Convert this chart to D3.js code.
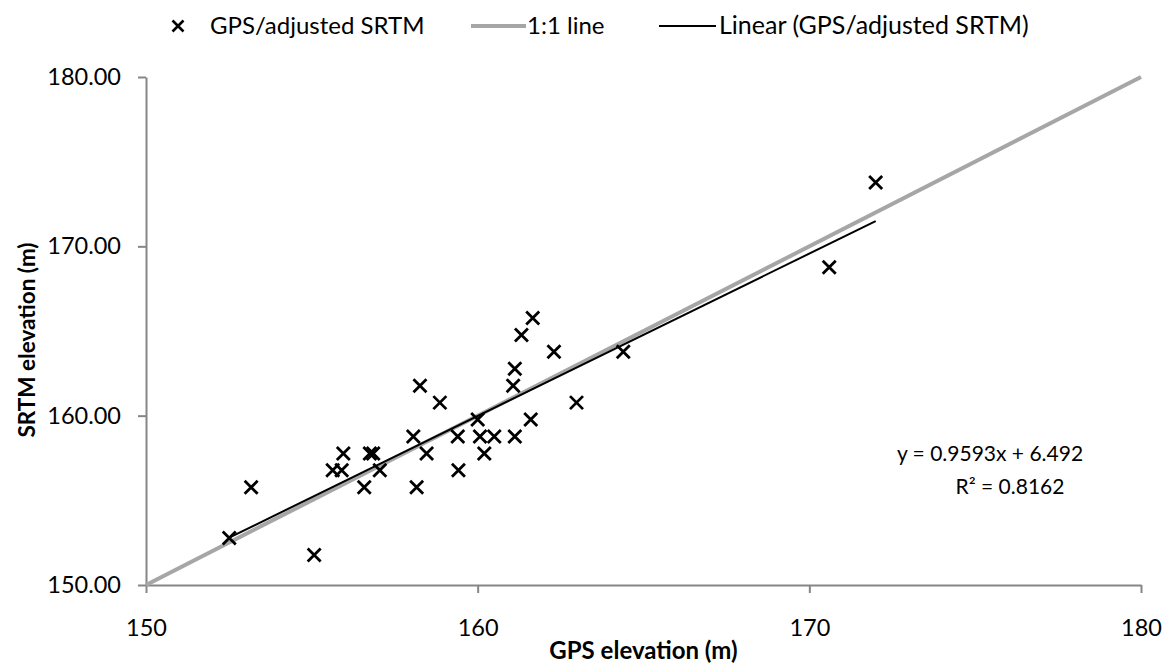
<!DOCTYPE html>
<html>
<head>
<meta charset="utf-8">
<script src="https://cdn.jsdelivr.net/npm/d3@7"></script>
<style>
  html, body { margin: 0; padding: 0; background: #fff; }
  svg { display: block; }
  text { font-family: Lato, "Open Sans", "Liberation Sans", sans-serif; fill: #000; }
</style>
</head>
<body>
<svg id="chart" width="1169" height="672"></svg>
<script>
// GPS-measured elevations (m)
const gpsElevation = [
  152.51, 153.17, 155.07, 155.63, 155.90, 155.95, 156.58, 156.75,
  156.85, 157.05, 158.06, 158.16, 158.26, 158.46, 158.86, 159.40,
  159.42, 160.00, 160.07, 160.20, 160.50, 161.07, 161.12, 161.12,
  161.32, 161.60, 161.66, 162.30, 162.98, 164.39, 170.60, 172.00
];
// Adjusted SRTM elevations (m) at the same locations
const srtmElevation = [
  152.77, 155.77, 151.77, 156.77, 156.77, 157.77, 155.77, 157.77,
  157.77, 156.77, 158.77, 155.77, 161.77, 157.77, 160.77, 158.77,
  156.77, 159.77, 158.77, 157.77, 158.77, 161.77, 162.77, 158.77,
  164.77, 159.77, 165.77, 163.77, 160.77, 163.77, 168.77, 173.77
];
// Least-squares fit reported on the chart
const trendSlope = 0.9593;
const trendIntercept = 6.492;
const rSquared = 0.8162;

const xTicks = [150, 160, 170, 180];
const yTicks = [150, 160, 170, 180];
const axisDomain = [150, 180];

const seriesNames = ["GPS/adjusted SRTM", "1:1 line", "Linear (GPS/adjusted SRTM)"];

const svg = d3.select("#chart");
const plotLeft = 146, plotRight = 1141, plotTop = 77, plotBottom = 585;

const x = d3.scaleLinear().domain(axisDomain).range([plotLeft, plotRight]);
const y = d3.scaleLinear().domain(axisDomain).range([plotBottom, plotTop]);

const axisColor = "#868686";

// plain "x" cross: two diagonals inside a square of side sqrt(size)
const crossShape = {
  draw(ctx, size) {
    const r = Math.sqrt(size) / 2;
    ctx.moveTo(-r, -r); ctx.lineTo(r, r);
    ctx.moveTo(r, -r); ctx.lineTo(-r, r);
  }
};

// y axis
const gy = svg.append("g")
  .attr("transform", `translate(${plotLeft},0)`)
  .call(d3.axisLeft(y).tickValues(yTicks).tickFormat(d3.format(".2f"))
    .tickSize(8).tickSizeOuter(0).tickPadding(17));
gy.select(".domain").attr("stroke", axisColor).attr("stroke-width", 2);
gy.selectAll(".tick line").attr("stroke", axisColor).attr("stroke-width", 2);
gy.selectAll(".tick text").attr("font-size", 23.5).attr("fill", "#000")
  .attr("font-family", "Lato, 'Open Sans', sans-serif");

// x axis
const gx = svg.append("g")
  .attr("transform", `translate(0,${plotBottom})`)
  .call(d3.axisBottom(x).tickValues(xTicks).tickFormat(d3.format("d"))
    .tickSize(8).tickSizeOuter(0).tickPadding(26));
gx.select(".domain").attr("stroke", axisColor).attr("stroke-width", 2);
gx.selectAll(".tick line").attr("stroke", axisColor).attr("stroke-width", 2);
gx.selectAll(".tick text").attr("font-size", 23.5).attr("fill", "#000")
  .attr("font-family", "Lato, 'Open Sans', sans-serif");

// axis titles
svg.append("text")
  .attr("x", (plotLeft + plotRight) / 2).attr("y", 659)
  .attr("text-anchor", "middle").attr("font-size", 24).attr("font-weight", "bold")
  .text("GPS elevation (m)");
svg.append("text")
  .attr("transform", `translate(35,${(plotTop + plotBottom) / 2 + 9}) rotate(-90)`)
  .attr("text-anchor", "middle").attr("font-size", 22.5).attr("font-weight", "bold")
  .text("SRTM elevation (m)");

// 1:1 reference line
svg.append("line")
  .attr("x1", x(axisDomain[0])).attr("y1", y(axisDomain[0]))
  .attr("x2", x(axisDomain[1])).attr("y2", y(axisDomain[1]))
  .attr("stroke", "#a6a6a6").attr("stroke-width", 4);

// linear trend over the data range
const xMin = d3.min(gpsElevation), xMax = d3.max(gpsElevation);
const fit = v => trendSlope * v + trendIntercept;
svg.append("line")
  .attr("x1", x(xMin)).attr("y1", y(fit(xMin)))
  .attr("x2", x(xMax)).attr("y2", y(fit(xMax)))
  .attr("stroke", "#000").attr("stroke-width", 2);

// cross markers
const cross = d3.symbol().type(crossShape).size(169);
svg.append("g").selectAll("path")
  .data(gpsElevation.map((g, i) => [g, srtmElevation[i]]))
  .join("path")
  .attr("transform", d => `translate(${x(d[0])},${y(d[1])})`)
  .attr("d", cross)
  .attr("fill", "none").attr("stroke", "#000").attr("stroke-width", 2.8);

// trend equation
const eq = svg.append("text").attr("text-anchor", "middle").attr("font-size", 21);
eq.append("tspan").attr("x", 990).attr("y", 461)
  .text(`y = ${trendSlope}x + ${trendIntercept}`);
eq.append("tspan").attr("x", 1010).attr("y", 494)
  .text(`R² = ${rSquared}`);

// legend
const legend = svg.append("g").attr("font-size", 24);
legend.append("path")
  .attr("transform", "translate(178,26)")
  .attr("d", d3.symbol().type(crossShape).size(121))
  .attr("fill", "none").attr("stroke", "#000").attr("stroke-width", 2.6);
legend.append("text").attr("x", 210).attr("y", 34).text(seriesNames[0]);
legend.append("line").attr("x1", 471).attr("x2", 526).attr("y1", 26).attr("y2", 26)
  .attr("stroke", "#a6a6a6").attr("stroke-width", 4);
legend.append("text").attr("x", 527).attr("y", 34).text(seriesNames[1]);
legend.append("line").attr("x1", 659).attr("x2", 716).attr("y1", 26).attr("y2", 26)
  .attr("stroke", "#000").attr("stroke-width", 2);
legend.append("text").attr("x", 719).attr("y", 34).attr("font-size", 25).text(seriesNames[2]);
</script>
</body>
</html>
